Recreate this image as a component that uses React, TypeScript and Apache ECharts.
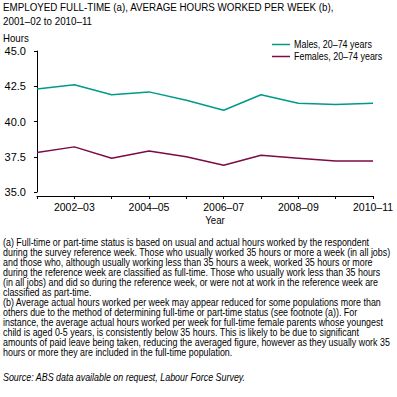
import React, { useEffect, useRef } from "react";
import * as echarts from "echarts";

const years = ["2001–02", "2002–03", "2003–04", "2004–05", "2005–06", "2006–07", "2007–08", "2008–09", "2009–10", "2010–11"];
const males = [42.3, 42.6, 41.9, 42.1, 41.5, 40.8, 41.9, 41.3, 41.2, 41.3];
const females = [37.8, 38.2, 37.4, 37.9, 37.5, 36.9, 37.6, 37.4, 37.2, 37.2];
const seriesNames = ["Males, 20–74 years", "Females, 20–74 years"];
const titleLines = ["EMPLOYED FULL-TIME (a), AVERAGE HOURS WORKED PER WEEK (b),", "2001–02 to 2010–11"];
const footnoteLines = [
  "(a) Full-time or part-time status is based on usual and actual hours worked by the respondent",
  "during the survey reference week. Those who usually worked 35 hours or more a week (in all jobs)",
  "and those who, although usually working less than 35 hours a week, worked 35 hours or more",
  "during the reference week are classified as full-time. Those who usually work less than 35 hours",
  "(in all jobs) and did so during the reference week, or were not at work in the reference week are",
  "classified as part-time.",
  "(b) Average actual hours worked per week may appear reduced for some populations more than",
  "others due to the method of determining full-time or part-time status (see footnote (a)). For",
  "instance, the average actual hours worked per week for full-time female parents whose youngest",
  "child is aged 0-5 years, is consistently below 35 hours. This is likely to be due to significant",
  "amounts of paid leave being taken, reducing the averaged figure, however as they usually work 35",
  "hours or more they are included in the full-time population.",
];
const sourceText = "Source: ABS data available on request, Labour Force Survey.";

const FONT = "'Liberation Sans', Arial, sans-serif";

function measure(text: string, font: string): number {
  const c = document.createElement("canvas").getContext("2d")!;
  c.font = font;
  return c.measureText(text).width;
}

export default function App() {
  const ref = useRef<HTMLDivElement>(null);
  useEffect(() => {
    const chart = echarts.init(ref.current!, null, { renderer: "svg" });
    const titleFont = `11px ${FONT}`;
    const noteFont = `10px ${FONT}`;
    const legendFont = `10px ${FONT}`;
    const titleScale = 331 / measure(titleLines[0], titleFont);
    const noteScale = 388 / measure(footnoteLines[1], noteFont);
    const legendScale = 78 / measure(seriesNames[0], legendFont);
    const colors = ["#009a8b", "#7c0b46"];

    const graphics: any[] = [];
    titleLines.forEach((t, i) => {
      graphics.push({ type: "text", x: 3, y: 7 + i * 14, scaleX: titleScale, style: { text: t, font: titleFont, fill: "#000", verticalAlign: "middle" } });
    });
    graphics.push({ type: "text", x: 3, y: 38, scaleX: 0.92, style: { text: "Hours", font: `10.5px ${FONT}`, fill: "#000", verticalAlign: "middle" } });
    graphics.push({ type: "text", x: 215, y: 220, scaleX: 0.92, style: { text: "Year", font: `10.5px ${FONT}`, fill: "#000", align: "center", verticalAlign: "middle" } });
    seriesNames.forEach((n, i) => {
      const y = 44.5 + i * 12;
      graphics.push({ type: "line", shape: { x1: 272, y1: y, x2: 290, y2: y }, style: { stroke: colors[i], lineWidth: 1.5 } });
      graphics.push({ type: "text", x: 294, y, scaleX: legendScale, style: { text: n, font: legendFont, fill: "#000", verticalAlign: "middle" } });
    });
    footnoteLines.forEach((t, i) => {
      graphics.push({ type: "text", x: 3, y: 242 + i * 10, scaleX: noteScale, style: { text: t, font: noteFont, fill: "#000", verticalAlign: "middle" } });
    });
    graphics.push({ type: "text", x: 3, y: 377, scaleX: noteScale, style: { text: sourceText, font: `italic ${noteFont}`, fill: "#000", verticalAlign: "middle" } });

    chart.setOption({
      animation: false,
      textStyle: { fontFamily: FONT },
      grid: { left: 37, right: 24, top: 51, bottom: 205, containLabel: false },
      xAxis: {
        type: "category",
        data: years,
        boundaryGap: false,
        offset: 4,
        axisLine: { lineStyle: { color: "#000", width: 1 } },
        axisTick: { show: true, length: 3, interval: 0, lineStyle: { color: "#000" } },
        axisLabel: {
          interval: (i: number) => i % 2 === 1,
          color: "#000",
          fontSize: 10.5,
          margin: 5,
          fontFamily: FONT,
        },
        splitLine: { show: false },
      },
      yAxis: {
        type: "value",
        min: 35,
        max: 45,
        interval: 2.5,
        axisLine: { show: true, lineStyle: { color: "#000", width: 1 } },
        axisTick: { show: true, length: 3, lineStyle: { color: "#000" } },
        axisLabel: { color: "#000", fontSize: 11, margin: 11, fontFamily: FONT, formatter: (v: number) => v.toFixed(1) },
        splitLine: { show: false },
      },
      series: [
        { name: seriesNames[0], type: "line", data: males, symbol: "none", lineStyle: { color: colors[0], width: 1.5 }, itemStyle: { color: colors[0] } },
        { name: seriesNames[1], type: "line", data: females, symbol: "none", lineStyle: { color: colors[1], width: 1.5 }, itemStyle: { color: colors[1] } },
      ],
      graphic: graphics,
    });
    return () => chart.dispose();
  }, []);
  return <div ref={ref} style={{ width: 397, height: 397, position: "absolute", left: 0, top: 0 }} />;
}
